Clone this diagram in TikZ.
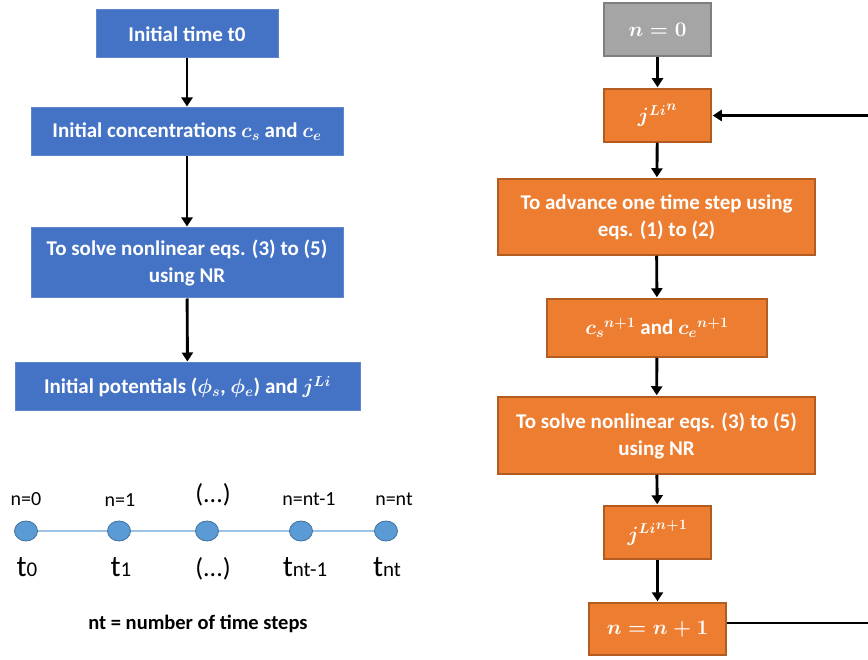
\documentclass[tikz,border=0pt]{standalone}
\usepackage{fontspec}
\setmainfont{Carlito}
\usepackage{amsmath}
\usepackage{xcolor}
\usetikzlibrary{arrows.meta}
\usetikzlibrary{positioning,shapes.geometric}
\definecolor{fblue}{HTML}{4472C4}
\definecolor{forange}{HTML}{ED7D31}
\definecolor{dorange}{HTML}{B25C22}
\definecolor{fgray}{HTML}{A5A5A5}
\definecolor{dgray}{HTML}{7F7F7F}
\definecolor{dotblue}{HTML}{5B9BD5}
\definecolor{dotline}{HTML}{41719C}
\definecolor{tline}{HTML}{9DC3E6}
\newcommand{\boxfont}{\fontsize{21}{27}\selectfont\bfseries\boldmath}
\newcommand{\subt}[1]{{\fontsize{21}{24}\selectfont #1}}
\newcommand{\skipdots}{{\fontsize{26}{30}\selectfont(...)}}
\tikzset{
 flowbox/.style={rectangle, text=white, align=center, font=\boxfont, inner sep=0pt},
 bluebox/.style={flowbox, fill=fblue, draw=fblue!85!white, line width=1pt},
 orangebox/.style={flowbox, fill=forange, draw=dorange, line width=1.5pt},
 graybox/.style={flowbox, fill=fgray, draw=dgray, line width=2pt},
 flow/.style={black, line width=2.9pt, -{Triangle[length=9pt,width=11pt]}, shorten >=1pt},
 tdot/.style={ellipse, fill=dotblue, draw=dotline, line width=0.8pt, minimum width=23pt, minimum height=20pt, inner sep=0pt},
}
\begin{document}
\begin{tikzpicture}[x=1pt, y=-1pt]
\useasboundingbox (0,0) rectangle (868,660);
% left: initialisation
\node[bluebox, minimum width=182, minimum height=48] (t0box) at (187,34) {Initial time t0};
\node[bluebox, minimum width=312, minimum height=48] (conc) at (187,132) {Initial concentrations $c_s$ and $c_e$};
\node[bluebox, minimum width=312, minimum height=70] (solveL) at (187,263) {To solve nonlinear eqs. (3) to (5)\\using NR};
\node[bluebox, minimum width=345, minimum height=48] (pot) at (187.5,387) {Initial potentials ($\phi_s$, $\phi_e$) and $j^{Li}$};
\draw[flow] (t0box) -- (conc);
\draw[flow] (conc) -- (solveL);
\draw[flow] (solveL) -- (pot);
% left: time axis
\coordinate (ax0) at (26,531);
\coordinate (ax1) at (386,531);
\draw[tline, line width=1.2pt] (ax0) -- (ax1);
\foreach \name/\x/\ux/\dx/\up/\down in {d0/26/0/1/{n=0}/{t\subt{0}},
  d1/119/1/2/{n=1}/{t\subt{1}},
  d2/207/6/6/{\skipdots}/{\skipdots},
  d3/301/8/4/{n=nt-1}/{t\subt{nt-1}},
  d4/386/8/1/{n=nt}/{t\subt{nt}}} {
 \node[tdot] (\name) at (\x,531) {};
 \node[above=11pt of \name, xshift=\ux, font=\fontsize{20}{24}\selectfont] (\name up) {\up};
 \node[below=13pt of \name, xshift=\dx, font=\fontsize{30}{34}\selectfont] (\name down) {\down};
}
\node[font=\fontsize{20.5}{24}\selectfont\bfseries] (ntlabel) at (198,624) {nt = number of time steps};
% right: time loop
\node[graybox, minimum width=107, minimum height=53] (n0) at (657.5,29.5) {$n=0$};
\node[orangebox, minimum width=107, minimum height=53] (jn) at (657.5,115.5) {${j^{Li}}^{n}$};
\node[orangebox, minimum width=317, minimum height=76] (adv) at (656.5,217) {To advance one time step using\\eqs. (1) to (2)};
\node[orangebox, minimum width=220, minimum height=58] (cs) at (657,328) {${c_s}^{n+1}$ and ${c_e}^{n+1}$};
\node[orangebox, minimum width=317, minimum height=77] (solveR) at (656.5,435.5) {To solve nonlinear eqs. (3) to (5)\\using NR};
\node[orangebox, minimum width=107, minimum height=53] (jn1) at (657.5,532.5) {${j^{Li}}^{n+1}$};
\node[orangebox, minimum width=137, minimum height=52] (nplus) at (657.5,629) {$n=n+1$};
\draw[flow] (n0) -- (jn);
\draw[flow] (jn) -- (adv);
\draw[flow] (adv) -- (cs);
\draw[flow] (cs) -- (solveR);
\draw[flow] (solveR) -- (jn1);
\draw[flow] (jn1) -- (nplus);
\coordinate (back) at (875,623);
\draw[flow] (nplus.east |- back) -- (back) |- (jn.east);
\end{tikzpicture}
\end{document}
